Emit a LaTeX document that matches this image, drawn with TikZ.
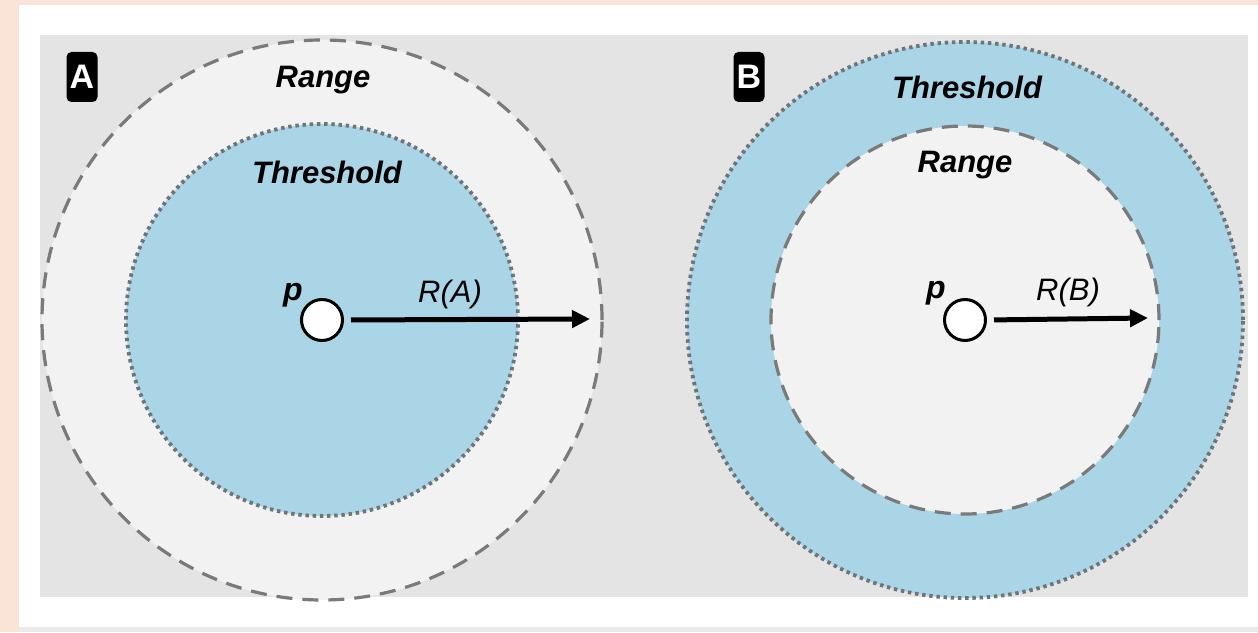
\documentclass[tikz,border=0pt]{standalone}
\usepackage{fontspec}
\setmainfont{Liberation Sans}
\usetikzlibrary{positioning, arrows.meta}

\definecolor{peach}{HTML}{FAE4D8}
\definecolor{stripgrey}{HTML}{EAEAEA}
\definecolor{panelgrey}{HTML}{E4E4E4}
\definecolor{rangegrey}{HTML}{F2F2F2}
\definecolor{thrblue}{HTML}{A9D5E6}
\definecolor{linegrey}{HTML}{7A7A7A}
\definecolor{dotgrey}{HTML}{6E7478}

\tikzset{
  rangeline/.style={draw=linegrey, line width=1.6pt, dash pattern=on 8pt off 5pt},
  thrline/.style={draw=dotgrey, line width=1.9pt, dash pattern=on 1.7pt off 1.9pt},
  areatext/.style={font=\fontsize{15.5}{18}\selectfont\bfseries\itshape},
  radtext/.style={font=\fontsize{15.5}{18}\selectfont\itshape},
  ptext/.style={font=\fontsize{16}{18}\selectfont\bfseries\itshape},
  pdot/.style={circle, draw=black, line width=1.5pt, fill=white, minimum size=20.5pt, inner sep=0pt},
  tag/.style={fill=black, rounded corners=2.5pt, minimum width=15.5pt, minimum height=25pt, inner sep=0pt,
    text=white, font=\fontsize{17}{17}\selectfont\bfseries},
  radarrow/.style={line width=2.5pt, -{Triangle[length=9pt,width=8.5pt]}, shorten <=3.5pt}
}

\begin{document}
\begin{tikzpicture}[x=0.5pt, y=0.5pt]
\useasboundingbox (0,0) rectangle (1258,632);

%//frame and panel
\fill[peach] (0,0) rectangle (1258,632);
\fill[white] (19,5) rectangle (1258,627);
\fill[stripgrey] (19,0) rectangle (1258,5);
\fill[panelgrey] (40,35) rectangle (1248,597);

%//panel A
\def\xstep{0}

\draw[rangeline, fill=rangegrey] (\xstep+322,312) circle (140pt);
\draw[thrline, fill=thrblue] (\xstep+322,312) circle (98pt);

\node[tag] (tagA) at (\xstep+82,555) {A};
\node[areatext] (rangeA) at (\xstep+323,552) {Range};
\node[areatext] (thrA) at (\xstep+327,460) {Threshold};

\node[pdot] (pA) at (\xstep+322,312) {};
\node[ptext] (labpA) at (\xstep+293,337) {p};
\coordinate (endA) at (\xstep+590,313);
\draw[radarrow] (pA.east) -- (endA);
\node[radtext] (radA) at (\xstep+450,338) {R(A)};

%//panel B
\def\xstep{643}

\draw[thrline, fill=thrblue] (\xstep+322,312) circle (139pt);
\draw[rangeline, fill=rangegrey] (\xstep+322,312) circle (97pt);

\node[tag] (tagB) at (\xstep+106,555) {B};
\node[areatext] (thrB) at (\xstep+324,545) {Threshold};
\node[areatext] (rangeB) at (\xstep+322,467) {Range};

\node[pdot] (pB) at (\xstep+322,312) {};
\node[ptext] (labpB) at (\xstep+293,339) {p};
\coordinate (endB) at (\xstep+505,314);
\draw[radarrow] (pB.east) -- (endB);
\node[radtext] (radB) at (\xstep+425,340) {R(B)};
\end{tikzpicture}
\end{document}
